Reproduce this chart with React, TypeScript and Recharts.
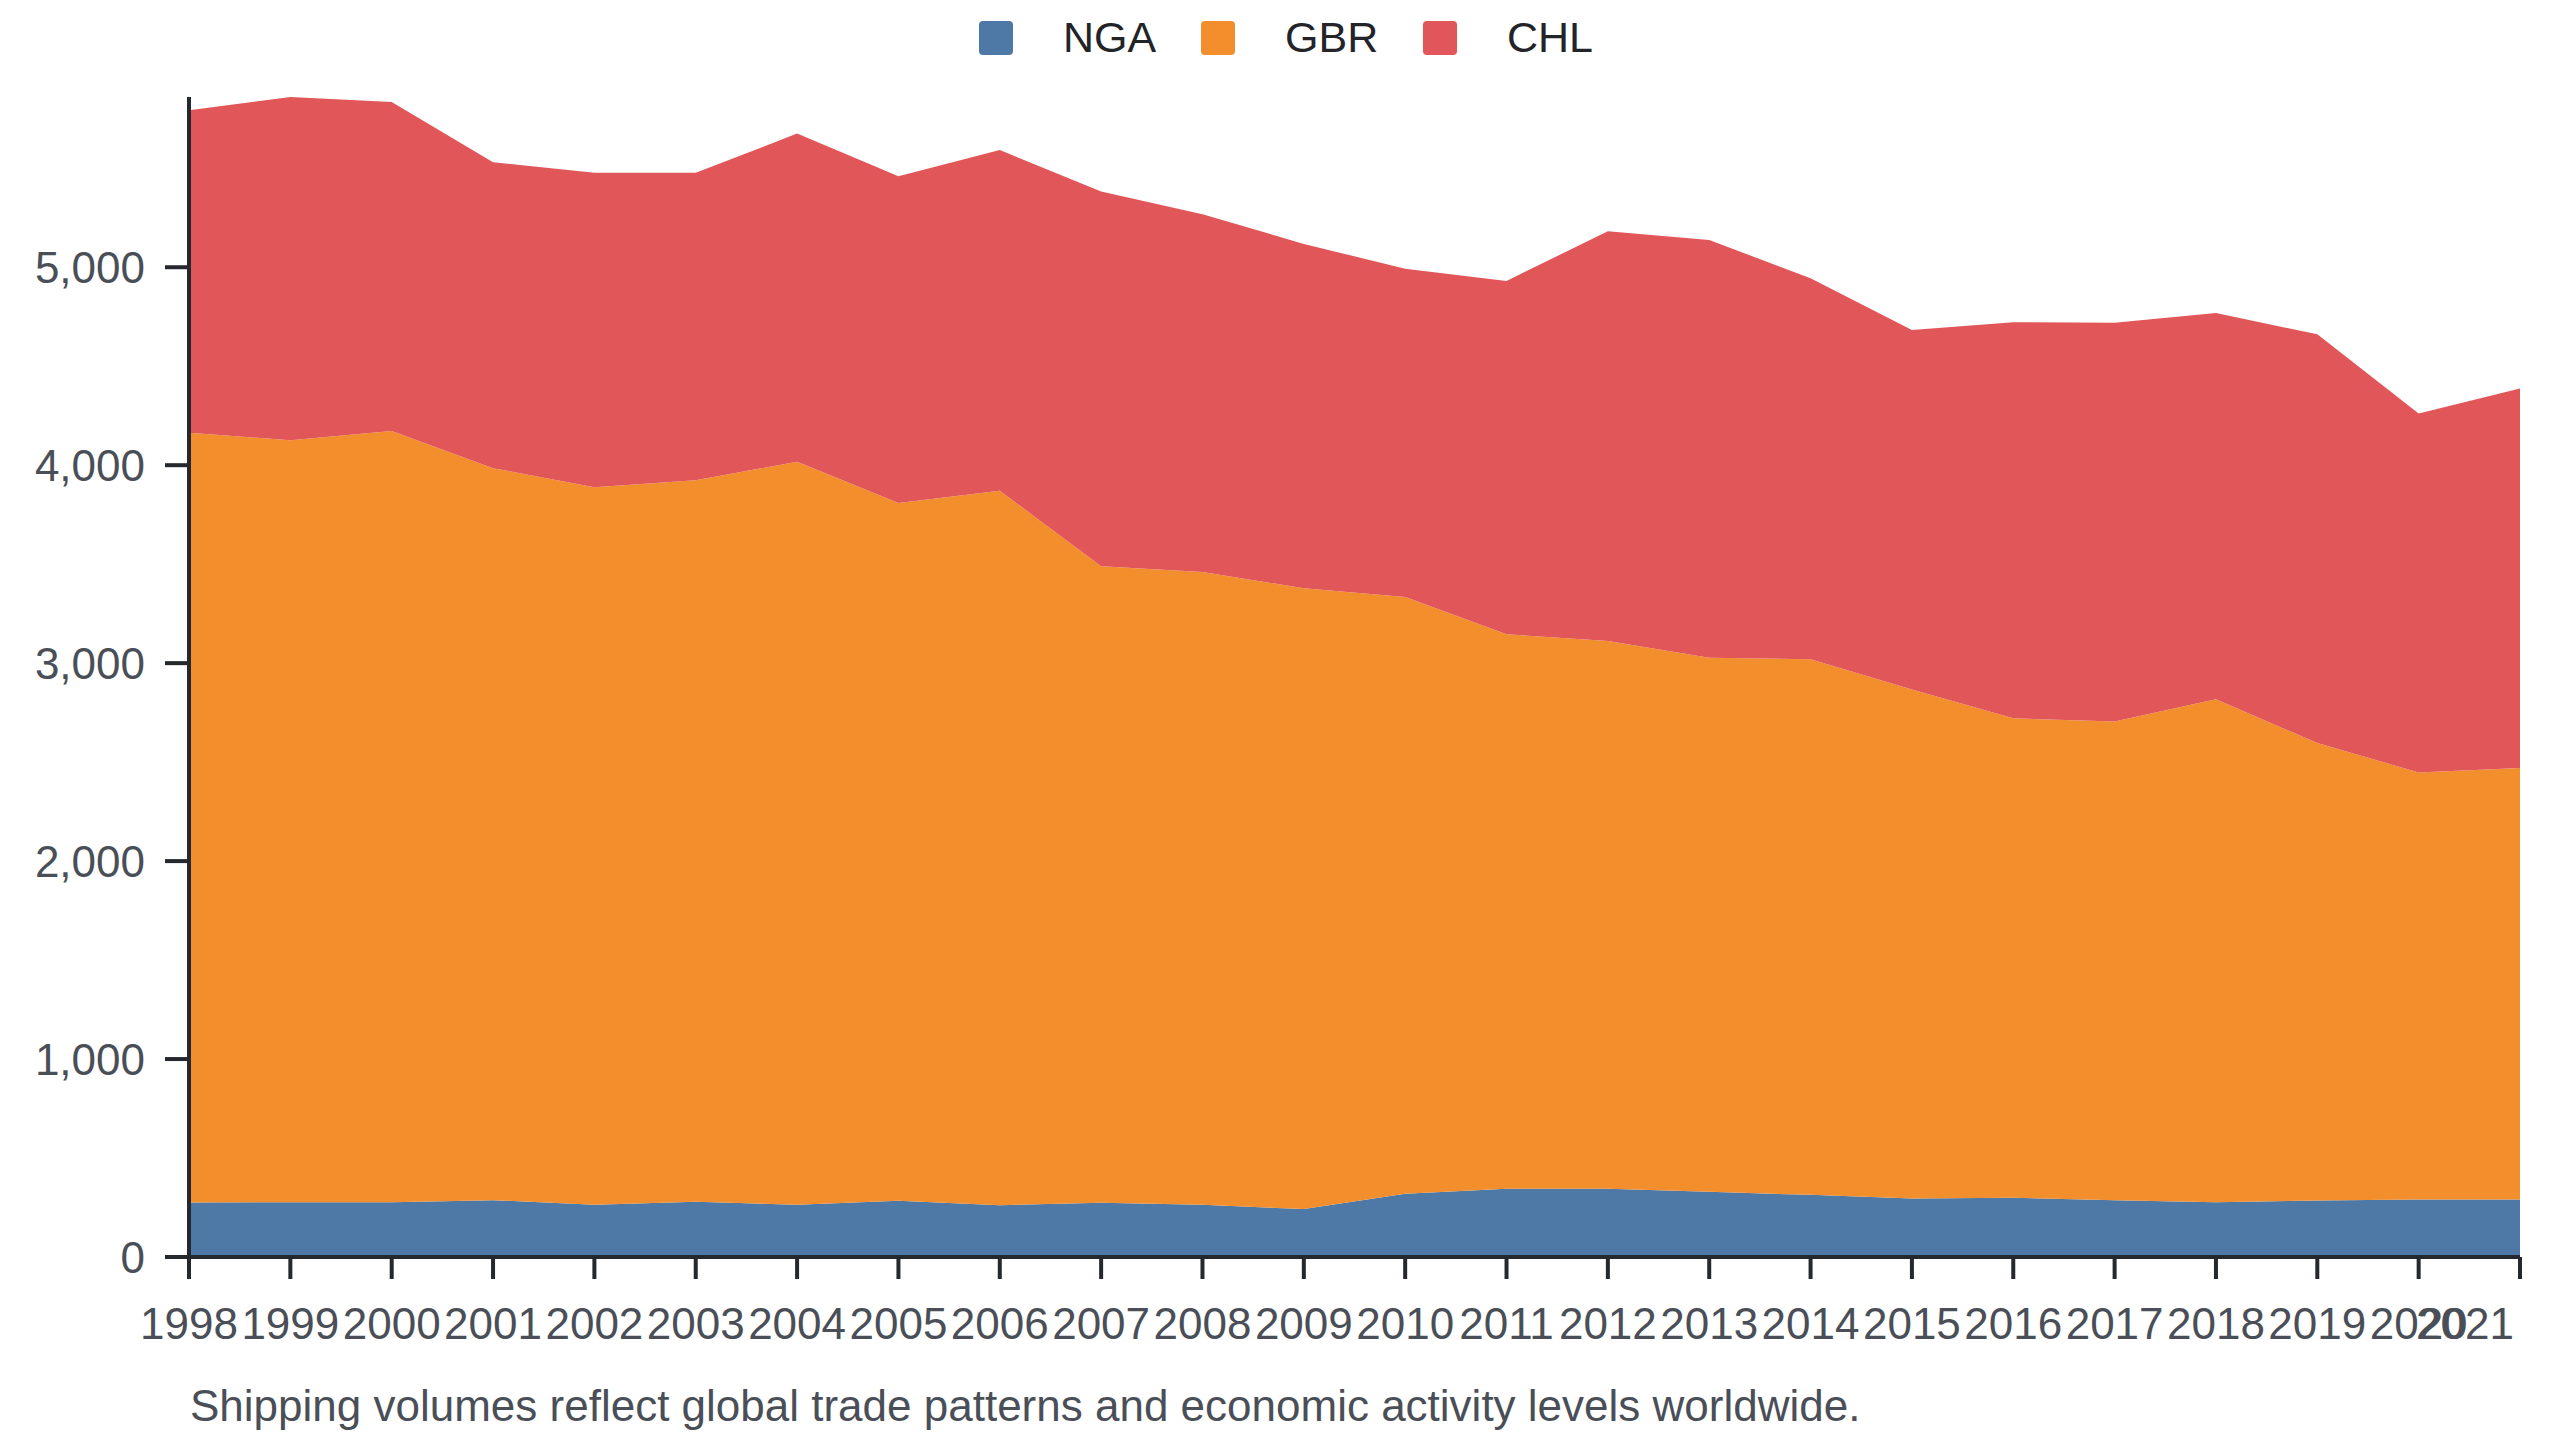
import React from 'react';
import { AreaChart, Area, XAxis, YAxis } from 'recharts';

// values, one entry per year
const years = [
  '1998', '1999', '2000', '2001', '2002', '2003', '2004', '2005', '2006', '2007', '2008', '2009',
  '2010', '2011', '2012', '2013', '2014', '2015', '2016', '2017', '2018', '2019', '2020', '2021',
];
const ngaValues = [275, 277, 277, 287, 264, 279, 264, 284, 262, 274, 264, 242, 319, 345, 345, 329, 314, 296, 299, 287, 277, 285, 291, 291];
const gbrValues = [3889, 3849, 3896, 3698, 3624, 3645, 3753, 3525, 3609, 3216, 3197, 3136, 3015, 2801, 2767, 2698, 2706, 2571, 2422, 2418, 2540, 2311, 2157, 2179];
const chlValues = [1629, 1734, 1662, 1546, 1589, 1553, 1658, 1651, 1721, 1893, 1807, 1740, 1658, 1785, 2070, 2111, 1924, 1816, 2001, 2015, 1952, 2065, 1813, 1918];
const yTicks = [0, 1000, 2000, 3000, 4000, 5000];

const seriesNames = ['NGA', 'GBR', 'CHL'];
const seriesColors = ['#4e79a7', '#f28e2b', '#e15759'];
const caption = 'Shipping volumes reflect global trade patterns and economic activity levels worldwide.';

const data = years.map((year, i) => ({
  year,
  NGA: ngaValues[i],
  GBR: gbrValues[i],
  CHL: chlValues[i],
}));

const FONT = '"Liberation Sans", Arial, Helvetica, sans-serif';
const AXIS = '#25282c';
const LABEL = '#4a4f57';
const TEXT_SIZE = 44;

const YearTick = (props: any) => {
  const { x, y, payload } = props;
  const last = payload.value === years[years.length - 1];
  return (
    <text
      x={last ? x - 6 : x}
      y={y}
      dy="0.71em"
      textAnchor={last ? 'end' : 'middle'}
      fill={LABEL}
      fontSize={TEXT_SIZE}
      fontFamily={FONT}
    >
      {payload.value}
    </text>
  );
};

const LegendRow = () => (
  <div style={{ position: 'absolute', left: 979, top: 0, display: 'flex' }}>
    {seriesNames.map((name, i) => (
      <div key={name} style={{ width: 222, display: 'flex', position: 'relative', height: 70 }}>
        <div
          style={{
            position: 'absolute',
            left: 0,
            top: 21,
            width: 34,
            height: 34,
            borderRadius: 4,
            background: seriesColors[i],
          }}
        />
        <div
          style={{
            position: 'absolute',
            left: 84,
            top: 16,
            fontSize: 43,
            lineHeight: '43px',
            fontFamily: FONT,
            color: '#222428',
            whiteSpace: 'nowrap',
          }}
        >
          {name}
        </div>
      </div>
    ))}
  </div>
);

export default function App() {
  return (
    <div style={{ position: 'relative', width: 2560, height: 1440, background: '#fff' }}>
      <style>{'body{margin:0}'}</style>
      <LegendRow />
      <AreaChart width={2560} height={1440} data={data} margin={{ top: 97, right: 40, bottom: 0, left: 0 }}>
        <XAxis
          dataKey="year"
          interval={0}
          height={183}
          tickSize={22}
          tickMargin={29}
          axisLine={{ stroke: AXIS, strokeWidth: 4 }}
          tickLine={{ stroke: AXIS, strokeWidth: 4 }}
          tick={<YearTick />}
        />
        <YAxis
          width={189}
          domain={[0, 'dataMax']}
          ticks={yTicks}
          tickSize={24}
          tickMargin={20}
          axisLine={{ stroke: AXIS, strokeWidth: 4 }}
          tickLine={{ stroke: AXIS, strokeWidth: 4 }}
          tick={{ fill: LABEL, fontSize: TEXT_SIZE, fontFamily: FONT }}
          tickFormatter={(v: number) => v.toLocaleString('en-US')}
        />
        {seriesNames.map((name, i) => (
          <Area
            key={name}
            type="linear"
            dataKey={name}
            stackId="total"
            stroke="none"
            fill={seriesColors[i]}
            fillOpacity={1}
            dot={false}
            activeDot={false}
            isAnimationActive={false}
          />
        ))}
      </AreaChart>
      <div
        style={{
          position: 'absolute',
          left: 190,
          top: 1384,
          fontSize: TEXT_SIZE,
          lineHeight: `${TEXT_SIZE}px`,
          fontFamily: FONT,
          color: LABEL,
          whiteSpace: 'nowrap',
        }}
      >
        {caption}
      </div>
    </div>
  );
}
